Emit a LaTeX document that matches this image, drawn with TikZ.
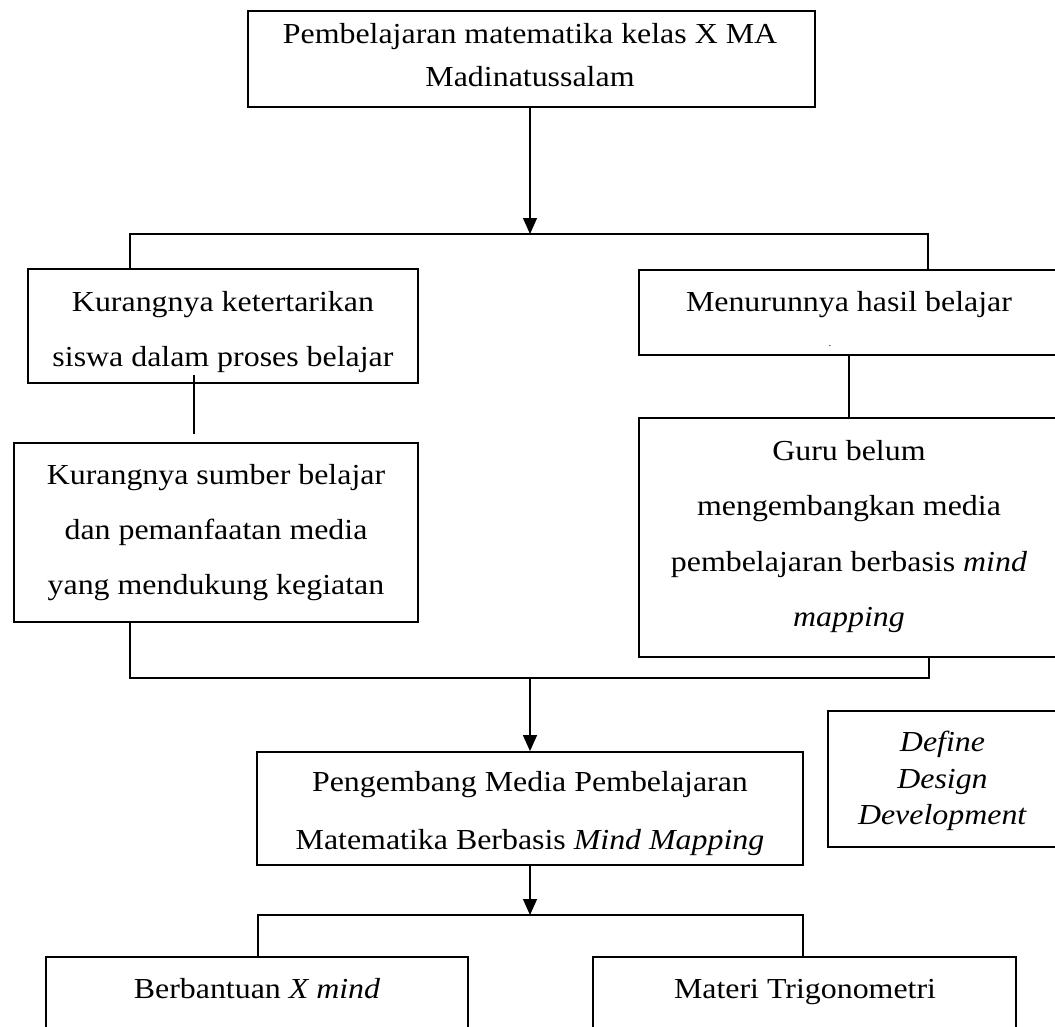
\documentclass[tikz,border=0pt]{standalone}
\usepackage{fontspec}
\setmainfont{Liberation Serif}[FakeStretch=1.1]
\usetikzlibrary{arrows.meta}
\tikzset{
  boxnode/.style={draw, line width=1.8pt, rectangle, inner sep=0pt},
  txt/.style={inner sep=0pt, anchor=base, font=\fontsize{29}{33}\selectfont},
  conn/.style={line width=1.3pt},
  arr/.style={line width=1.3pt, -{Triangle[width=14pt,length=16pt]}}
}
\begin{document}
\begin{tikzpicture}[x=1pt,y=-1pt]
\useasboundingbox (0,0) rectangle (1055,1026);
\fill[white] (0,0) rectangle (1055,1026);
% boxes
\node[boxnode, minimum width=567pt, minimum height=96pt] (top) at (531.5,59) {};
\node[boxnode, minimum width=390pt, minimum height=114pt] (kk1) at (223,326) {};
\node[boxnode, minimum width=419pt, minimum height=85pt] (mm1) at (848.5,312.5) {};
\node[boxnode, minimum width=404pt, minimum height=179pt] (kk2) at (216,532.5) {};
\node[boxnode, minimum width=419pt, minimum height=239pt] (gg) at (848.5,537.5) {};
\node[boxnode, minimum width=546pt, minimum height=113pt] (pm) at (530,808.5) {};
\node[boxnode, minimum width=230pt, minimum height=136pt] (dd) at (943,779) {};
\node[boxnode, minimum width=422pt, minimum height=90pt] (bx) at (257,1002) {};
\node[boxnode, minimum width=423pt, minimum height=90pt] (mt) at (804.5,1002) {};
% texts
\node[txt] (t1) at (530,43) {Pembelajaran matematika kelas X MA};
\node[txt] (t2) at (530,86) {Madinatussalam};
\node[txt] (k1a) at (223,311) {Kurangnya ketertarikan};
\node[txt] (k1b) at (223,366) {siswa dalam proses belajar};
\node[txt] (m1a) at (849,311) {Menurunnya hasil belajar};
\node[inner sep=0pt, anchor=base, font=\fontsize{10}{12}\selectfont] (m1dot) at (830,346) {.};
\node[txt] (k2a) at (216,484) {Kurangnya sumber belajar};
\node[txt] (k2b) at (216,539) {dan pemanfaatan media};
\node[txt] (k2c) at (216,594) {yang mendukung kegiatan};
\node[txt] (g1) at (849,460) {Guru belum};
\node[txt] (g2) at (849,515.5) {mengembangkan media};
\node[txt] (g3) at (849,571) {pembelajaran berbasis \textit{mind}};
\node[txt] (g4) at (849,626.5) {\textit{mapping}};
\node[txt] (p1) at (530,791) {Pengembang Media Pembelajaran};
\node[txt] (p2) at (530,849) {Matematika Berbasis \textit{Mind Mapping}};
\node[txt] (d1) at (942.5,751) {\textit{Define}};
\node[txt] (d2) at (942.5,788) {\textit{Design}};
\node[txt] (d3) at (942.5,824) {\textit{Development}};
\node[txt] (b1) at (257,998) {Berbantuan \textit{X mind}};
\node[txt] (mt1) at (805,998) {Materi Trigonometri};
% junction coordinates
\coordinate (j1) at (530,234);
\coordinate (l1) at (130,234);
\coordinate (r1) at (928,234);
\coordinate (c1) at (194,375);
\coordinate (c1e) at (194,434);
\coordinate (c2) at (849,355);
\coordinate (l2) at (130,678);
\coordinate (r2) at (929,678);
\coordinate (j2) at (530,678);
\coordinate (j3) at (530,915);
\coordinate (l3) at (258,915);
\coordinate (r3) at (803,915);
% connectors
\draw[arr] (j1 |- top.south) -- (j1);
\draw[conn] (kk1.north -| l1) -- (l1) -- (r1) -- (mm1.north -| r1);
\draw[conn] (c1) -- (c1e);
\draw[conn] (mm1.south -| c2) -- (gg.north -| c2);
\draw[conn] (kk2.south -| l2) -- (l2) -- (r2) -- (gg.south -| r2);
\draw[arr] (j2) -- (pm.north -| j2);
\draw[arr] (pm.south -| j3) -- (j3);
\draw[conn] (bx.north -| l3) -- (l3) -- (r3) -- (mt.north -| r3);
\end{tikzpicture}
\end{document}
